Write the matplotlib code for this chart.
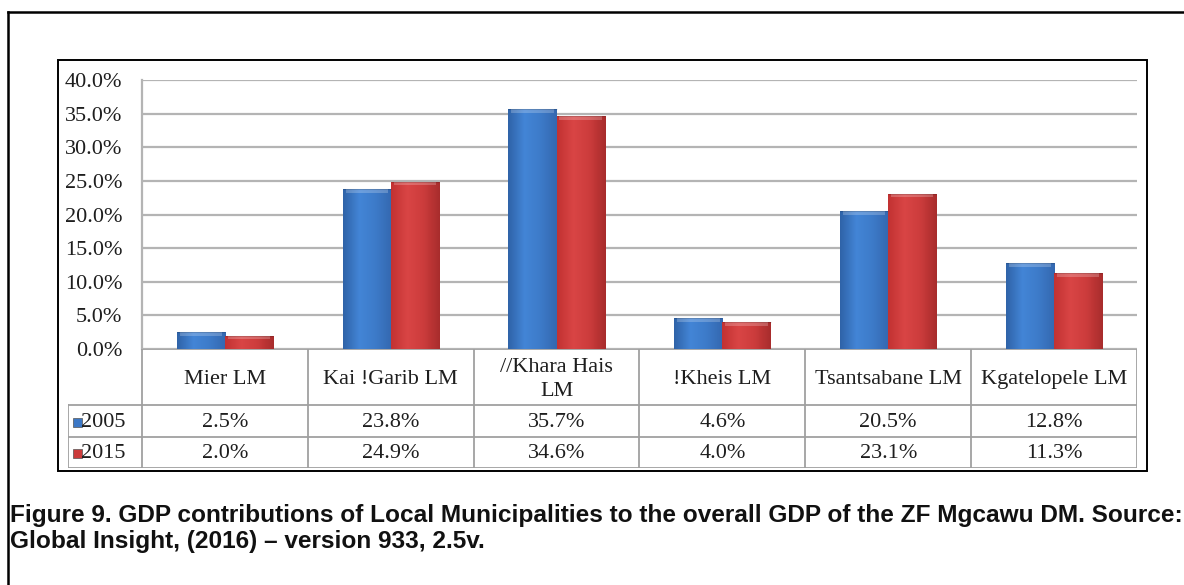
import numpy as np
import matplotlib
matplotlib.use("Agg")
import matplotlib.pyplot as plt
from matplotlib.colors import LinearSegmentedColormap
from matplotlib.lines import Line2D
from matplotlib.patches import Rectangle

# ---------------- data ----------------
categories = ["Mier LM", "Kai !Garib LM", "//Khara Hais\nLM", "!Kheis LM",
              "Tsantsabane LM", "Kgatelopele LM"]
series_names = ["2005", "2015"]
values_2005 = [2.5, 23.8, 35.7, 4.6, 20.5, 12.8]
values_2015 = [2.0, 24.9, 34.6, 4.0, 23.1, 11.3]
yticks = [0, 5, 10, 15, 20, 25, 30, 35, 40]
caption = ("Figure 9. GDP contributions of Local Municipalities to the overall GDP of the ZF Mgcawu DM. Source:\n"
           "Global Insight, (2016) \u2013 version 933, 2.5v.")

# ---------------- style ----------------
W, H = 1184, 585
DPI = 100
SERIF = ["Liberation Serif", "DejaVu Serif"]
TXT = "#1e1e1e"
GRID = "#b4b4b4"
blue_cmap = LinearSegmentedColormap.from_list("b", ["#2f63a8", "#4385d6", "#3d7bc9", "#3468b0"])
red_cmap = LinearSegmentedColormap.from_list("r", ["#c23232", "#d94545", "#cc3c3c", "#a82c2c"])
cmaps = [blue_cmap, red_cmap]
solid = ["#3c78c6", "#cc3b3b"]

fig = plt.figure(figsize=(W / DPI, H / DPI), dpi=DPI)

def fx(px):
    return px / W

def fy(py):
    return 1 - py / H

# layout in pixels
plot_l, plot_r, plot_t, plot_b = 142, 1137, 80, 349
tab_l, tab_b = 68, 468
row_edges = [0, 56, 88, 119]

ax = fig.add_axes([fx(plot_l), fy(plot_b), fx(plot_r - plot_l), (plot_b - plot_t) / H])
n = len(categories)
x = np.arange(n)
ax.set_xlim(-0.5, n - 0.5)
ax.set_ylim(0, 40)
ax.set_yticks(yticks)
ax.set_yticklabels([f"{t:.1f}%" for t in yticks], fontfamily=SERIF, fontsize=16, color=TXT)
ax.tick_params(axis="y", length=0, pad=14)
ax.set_xticks([])
for s in ["top", "right", "bottom"]:
    ax.spines[s].set_visible(False)
ax.spines["left"].set_color(GRID)
ax.spines["left"].set_linewidth(1.6)
ax.grid(axis="y", color=GRID, linewidth=1.6)
ax.set_axisbelow(True)

bw = 0.29
grad = np.linspace(0, 1, 64).reshape(1, -1)
for si, vals in enumerate([values_2005, values_2015]):
    offs = (si - 0.5) * bw
    bars = ax.bar(x + offs, vals, width=bw, color=solid[si], edgecolor="none", zorder=3)
    for b in bars:
        x0, w, h = b.get_x(), b.get_width(), b.get_height()
        im = ax.imshow(grad, cmap=cmaps[si], aspect="auto",
                       extent=[x0, x0 + w, 0, h], zorder=3.1, interpolation="bicubic")
        im.set_clip_path(b)
        # bevel highlight on top
        ax.add_patch(Rectangle((x0 + w * 0.06, h - 0.55), w * 0.88, 0.55,
                               facecolor="white", alpha=0.22, edgecolor="none", zorder=3.2))
        ax.add_patch(Rectangle((x0, h), w, 0, edgecolor="black", alpha=0.15, lw=0.8, zorder=3.3))
ax.set_xlim(-0.5, n - 0.5)
ax.set_ylim(0, 40)

# ---------------- data table ----------------
left_extra = (plot_l - tab_l) / ((plot_r - plot_l) / n)
tx = fig.add_axes([fx(tab_l), fy(tab_b), fx(plot_r - tab_l), (tab_b - plot_b) / H])
tx.set_xlim(-0.5 - left_extra, n - 0.5)
tx.set_ylim(row_edges[-1], 0)
tx.axis("off")
lc = dict(color="#a0a0a0", lw=1.3)
for k in range(n + 1):
    tx.add_line(Line2D([k - 0.5, k - 0.5], [0, row_edges[-1]], **lc))
tx.add_line(Line2D([-0.5, n - 0.5], [0, 0], **lc))
for r in row_edges[1:]:
    tx.add_line(Line2D([-0.5 - left_extra, n - 0.5], [r, r], **lc))
tx.add_line(Line2D([-0.5 - left_extra] * 2, [row_edges[1], row_edges[-1]], **lc))

for k, c in enumerate(categories):
    tx.text(k, (row_edges[0] + row_edges[1]) / 2 + 2.5, c, ha="center", va="center",
            fontfamily=SERIF, fontsize=16, color=TXT, linespacing=1.3)
for si, vals in enumerate([values_2005, values_2015]):
    yc = (row_edges[si + 1] + row_edges[si + 2]) / 2
    for k, v in enumerate(vals):
        tx.text(k, yc + 1.5, f"{v:.1f}%", ha="center", va="center",
                fontfamily=SERIF, fontsize=16, color=TXT)
    tx.text(-0.5 - left_extra * 0.82, yc + 1.5, series_names[si], ha="left", va="center",
            fontfamily=SERIF, fontsize=16, color=TXT)
    sq = 0.055
    tx.add_patch(Rectangle((-0.5 - left_extra * 0.93, yc - 3.5), sq, 9,
                           facecolor=solid[si], edgecolor="#555555", lw=0.5))

# ---------------- frames ----------------
ov = fig.add_axes([0, 0, 1, 1], zorder=-1)
ov.set_xlim(0, W)
ov.set_ylim(H, 0)
ov.axis("off")
ov.add_patch(Rectangle((58, 60), 1147 - 58, 471 - 60, fill=False, edgecolor="black", lw=1.4))
ov.add_line(Line2D([8, 8], [12, H + 5], color="black", lw=1.8))
ov.add_line(Line2D([8, W + 5], [12, 12], color="black", lw=1.8))

# caption
cap = fig.text(fx(10), fy(504), caption, ha="left", va="top", fontfamily="Liberation Sans",
               fontweight="bold", fontsize=13, color="#111111", linespacing=1.15)
fig.canvas.draw()
bb = cap.get_window_extent()
target = 1170
cap.set_fontsize(13 * target / bb.width)

fig.savefig("out.png", dpi=DPI)
